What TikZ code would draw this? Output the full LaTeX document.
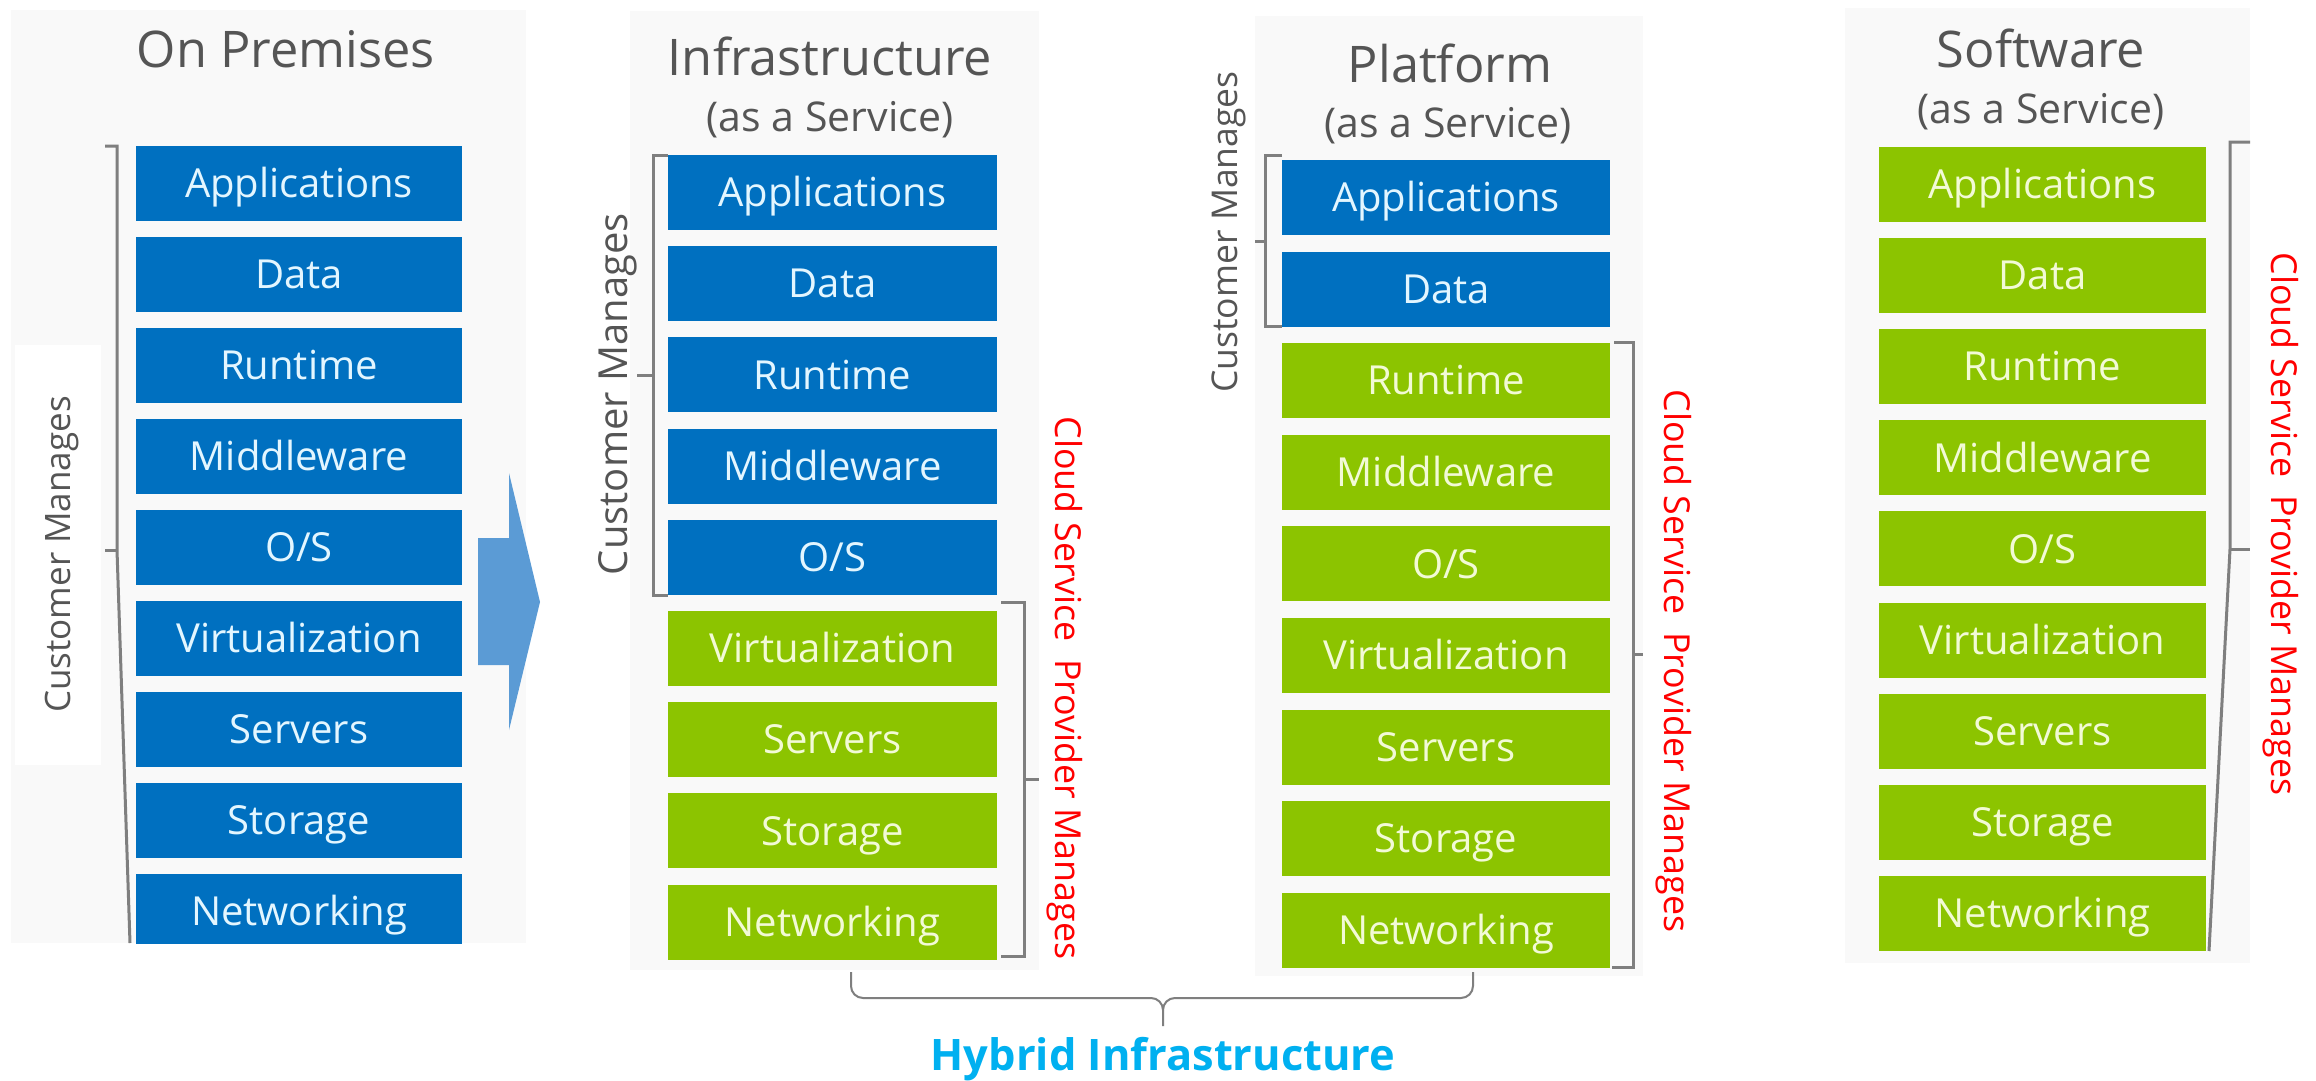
\documentclass[tikz,border=0pt]{standalone}
\usepackage{fontspec}
\setmainfont{Open Sans}
\usetikzlibrary{calc}
\definecolor{boxblue}{HTML}{0070C0}
\definecolor{boxgreen}{HTML}{8CC400}
\definecolor{bluetext}{HTML}{E3F6FF}
\definecolor{greentext}{HTML}{F2FAD6}
\definecolor{titlegray}{HTML}{555555}
\definecolor{linegray}{HTML}{7F7F7F}
\definecolor{panelgray}{HTML}{F9F9F9}
\definecolor{arrowblue}{HTML}{5B9BD5}
\definecolor{hybridblue}{HTML}{00B0F0}
\begin{document}
\begin{tikzpicture}[x=1pt,y=-1pt,
  layer/.style={minimum height=75pt, inner sep=0pt, outer sep=0pt, text height=28.5pt, text depth=0pt, font=\fontsize{40}{48}\selectfont},
  bluebox/.style={layer, fill=boxblue, text=bluetext},
  greenbox/.style={layer, fill=boxgreen, text=greentext},
  title/.style={anchor=base, text=titlegray, inner sep=0pt, font=\fontsize{50.5}{60}\selectfont},
  subtitle/.style={anchor=base, text=titlegray, inner sep=0pt, font=\fontsize{41}{50}\selectfont},
  custtext/.style={anchor=base, rotate=90, text=titlegray, inner sep=0pt},
  cloudtext/.style={anchor=base, rotate=-90, text=red, inner sep=0pt, font=\fontsize{35.8}{42}\selectfont},
  bracket/.style={draw=linegray, line width=3pt},
  panel/.style={fill=panelgray},
]
\useasboundingbox (0,0) rectangle (2316,1081);
\fill[white] (0,0) rectangle (2316,1081);
% panels
\fill[panel] (11,10) rectangle (526,943);
\fill[white] (15,345) rectangle (101,765);
\fill[panel] (630,11) rectangle (1039,970);
\fill[panel] (1255,16) rectangle (1643,976);
\fill[panel] (1845,8) rectangle (2250,963);

% titles
\node[title] (t1) at (286,68) {On Premises};
\node[title] (t2) at (830,76) {Infrastructure};
\node[subtitle] (s2) at (830,131) {(as a Service)};
\node[title] (t3) at (1450,83) {Platform};
\node[subtitle] (s3) at (1448,137) {(as a Service)};
\node[title] (t4) at (2041,68) {Software};
\node[subtitle] (s4) at (2041,123) {(as a Service)};

% On premises column
\begin{scope}
\clip (0,0) rectangle (2316,943);
\foreach \lab [count=\i from 0] in {Applications,Data,Runtime,Middleware,O/S,Virtualization,Servers,Storage,Networking} {
  \pgfmathsetmacro\yy{146+91*\i+37.5}
  \node[bluebox, minimum width=326pt] (op\i) at (299,\yy) {\lab};
}
\draw[bracket] (105,146) -- (117,146) -- (117,550) -- (130,943);
\draw[bracket] (105,550) -- (117,550);
\end{scope}

% IaaS column
\foreach \lab [count=\i from 0] in {Applications,Data,Runtime,Middleware,O/S,Virtualization,Servers,Storage,Networking} {
  \pgfmathsetmacro\yy{155+91.2*\i+37.5}
  \ifnum\i<5 \tikzset{cur/.style={bluebox}}\else\tikzset{cur/.style={greenbox}}\fi
  \node[cur, minimum width=329pt] (ia\i) at (832.5,\yy) {\lab};
}
% PaaS column
\foreach \lab [count=\i from 0] in {Applications,Data,Runtime,Middleware,O/S,Virtualization,Servers,Storage,Networking} {
  \pgfmathsetmacro\yy{160+91.6*\i+37.5}
  \ifnum\i<2 \tikzset{cur/.style={bluebox}}\else\tikzset{cur/.style={greenbox}}\fi
  \node[cur, minimum width=328pt] (pa\i) at (1446,\yy) {\lab};
}
% SaaS column
\foreach \lab [count=\i from 0] in {Applications,Data,Runtime,Middleware,O/S,Virtualization,Servers,Storage,Networking} {
  \pgfmathsetmacro\yy{147+91.1*\i+37.5}
  \node[greenbox, minimum width=327pt] (sa\i) at (2042.5,\yy) {\lab};
}

% brackets
\draw[bracket] (668,155) -- (653,155) -- (653,595) -- (668,595);
\draw[bracket] (637,375) -- (653,375);
\draw[bracket] (1001,602) -- (1024,602) -- (1024,956) -- (1001,956);
\draw[bracket] (1024,779) -- (1039,779);
\draw[bracket] (1282,155) -- (1265,155) -- (1265,326) -- (1282,326);
\draw[bracket] (1255,241) -- (1265,241);
\draw[bracket] (1614,342) -- (1633,342) -- (1633,967) -- (1612,967);
\draw[bracket] (1633,654) -- (1643,654);
\draw[bracket] (2250,142) -- (2230,142) -- (2230,549) -- (2209,951);
\draw[bracket] (2230,549) -- (2250,549);

% side texts
\node[custtext, font=\fontsize{35}{42}\selectfont] (c1) at (70,554.5) {Customer Manages};
\node[custtext, font=\fontsize{40}{48}\selectfont] (c2) at (627,394) {Customer Manages};
\node[custtext, font=\fontsize{35.5}{42}\selectfont] (c3) at (1237,232) {Customer Manages};
\node[cloudtext] (r2) at (1055,688) {Cloud Service\hspace{0.5em}Provider Manages};
\node[cloudtext] (r3) at (1664,661) {Cloud Service\hspace{0.5em}Provider Manages};
\node[cloudtext] (r4) at (2271,524) {Cloud Service\hspace{0.5em}Provider Manages};

% big arrow
\fill[arrowblue] (478,538) -- (509,538) -- (509,473) -- (540,602) -- (509,730) -- (509,665) -- (478,665) -- cycle;

% hybrid brace
\coordinate (bl) at (851,972);
\coordinate (br) at (1473,972);
\coordinate (btip) at (1163,1026);
\draw[linegray, line width=2pt] (bl) -- (851,986) to[out=-90,in=180] (863,998) -- (1151,998) to[out=0,in=90] (1163,1010) -- (btip);
\draw[linegray, line width=2pt] (br) -- (1473,986) to[out=-90,in=0] (1461,998) -- (1175,998) to[out=180,in=90] (1163,1010);
\node[anchor=base, inner sep=0pt, text=hybridblue, font=\bfseries\fontsize{43.4}{52}\selectfont] (hyb) at (1163,1070) {Hybrid Infrastructure};
\end{tikzpicture}
\end{document}
